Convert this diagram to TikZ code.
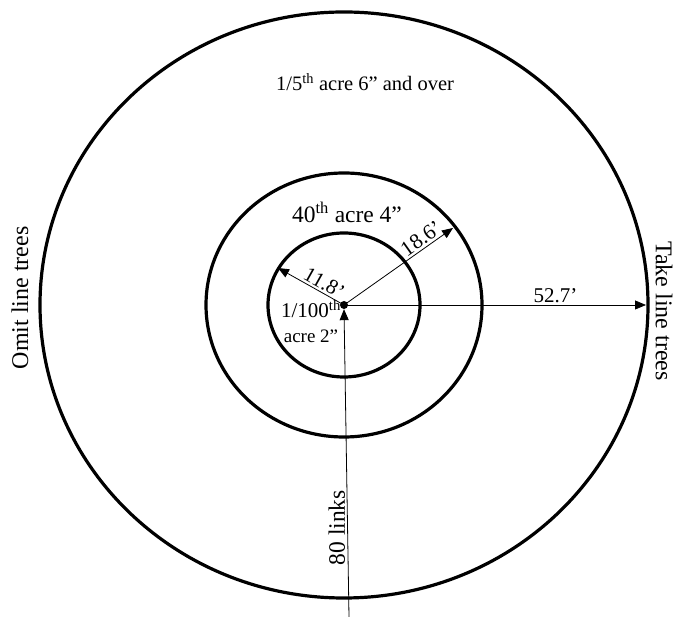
\documentclass[tikz,border=0pt]{standalone}
\usepackage{fontspec}
\setmainfont{Liberation Serif}
\usetikzlibrary{arrows.meta,positioning,calc}

\begin{document}
\begin{tikzpicture}[x=1pt,y=1pt,>={Triangle[length=11pt,width=9pt]},
  ring/.style={line width=3.2pt},
  radial/.style={->,line width=0.8pt},
  lbl/.style={font=\fontsize{21}{25}\selectfont,inner sep=2pt},
  midlbl/.style={font=\fontsize{23.5}{28}\selectfont,inner sep=2pt},
  side/.style={font=\fontsize{24}{29}\selectfont}]
\useasboundingbox (0,0) rectangle (679,617);
\node[circle,fill,inner sep=0pt,minimum size=8pt] (ctr) at (344,312) {};
% plot rings
\draw[ring] (ctr.center) ellipse[x radius=304pt,y radius=293pt];
\draw[ring] (ctr.center) ellipse[x radius=138pt,y radius=132pt];
\draw[ring] (ctr.center) ellipse[x radius=76pt,y radius=72pt];
\coordinate (r1) at (278,349);
\coordinate (r2) at (453,389);
\coordinate (r3) at (646,312);
\coordinate (base) at (349,0);
% radii
\draw[radial] (ctr.center) -- (r1) node[lbl,pos=0.37,sloped,above]{11.8’};
\draw[radial] (ctr.center) -- (r2) node[lbl,pos=0.76,sloped,above,font=\fontsize{21.5}{26}\selectfont]{18.6’};
\draw[radial] (ctr.center) -- (r3) node[lbl,pos=0.7,above]{52.7’};
\draw[radial] (base) -- (ctr.south) node[midlbl,pos=0.29,rotate=90,anchor=south]{80 links};
% labels
\node[lbl,font=\fontsize{20.5}{25}\selectfont] (plotbig) at (365,535) {1/5\textsuperscript{th} acre 6” and over};
\node[midlbl] (plotmid) at (347,405) {40\textsuperscript{th} acre 4”};
\node[lbl,inner sep=0pt] (plotsmall) at (311,308) {1/100\textsuperscript{th}};
\node[lbl,inner sep=0pt,font=\fontsize{19}{23}\selectfont] (plotsmallb) at (311,281) {acre 2”};
\node[side,rotate=90] (omit) at (20,319) {Omit line trees};
\node[side,rotate=-90] (take) at (664,306) {Take line trees};
\end{tikzpicture}
\end{document}
